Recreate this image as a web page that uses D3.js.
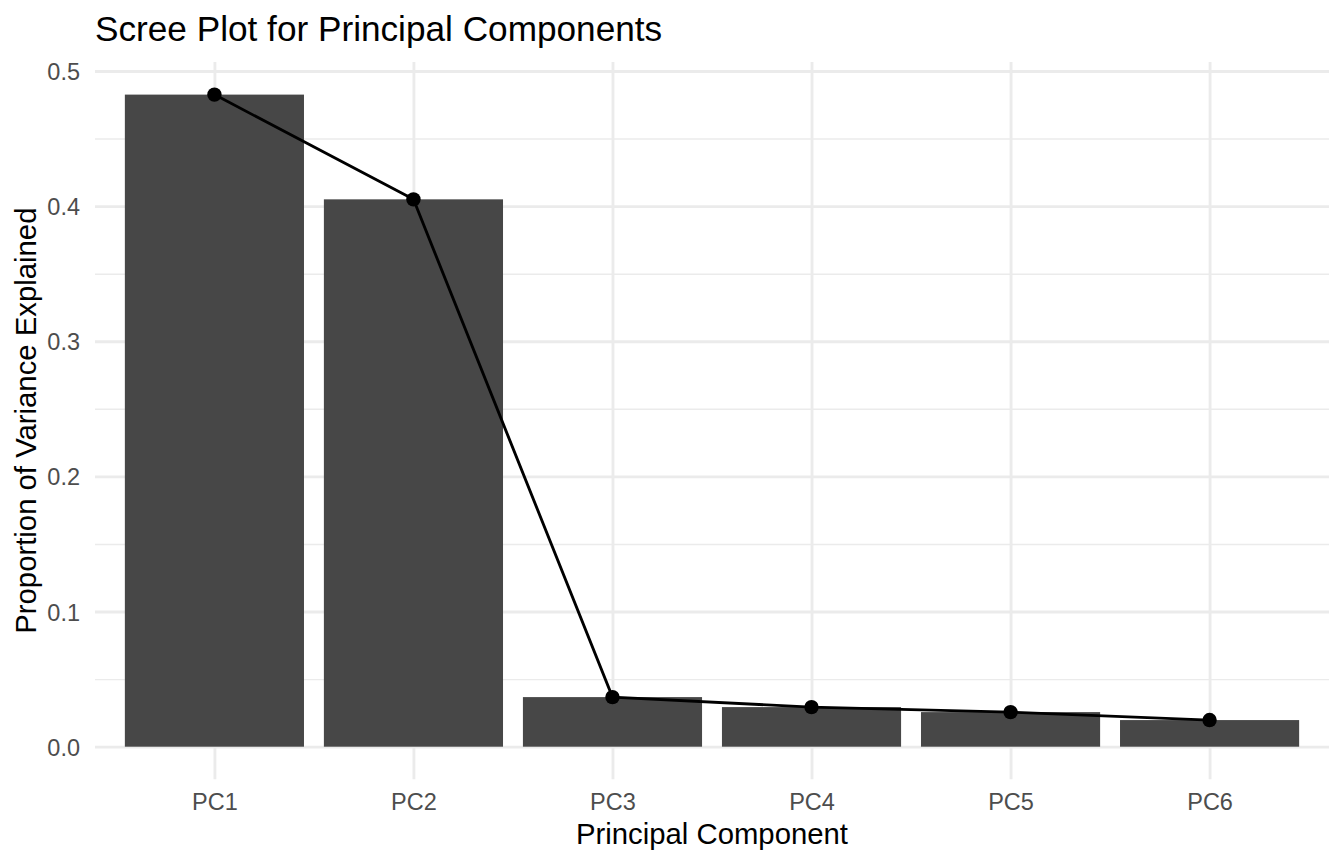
<!DOCTYPE html>
<html>

<head>
    <meta charset="utf-8">
    <style>
        body {
            margin: 0;
            background: white;
        }

        svg {
            font-family: "Liberation Sans", Arial, sans-serif;
            display: block;
        }

        .grid line {
            stroke: #EBEBEB;
        }

        .grid path {
            display: none;
        }

        .axis path,
        .axis line {
            display: none;
        }

        .axis text {
            fill: #4D4D4D;
            font-size: 23.5px;
        }

        .bar {
            fill: #474747;
        }

        .line {
            fill: none;
            stroke: black;
            stroke-width: 2.85px;
        }
    </style>
    <script src="https://d3js.org/d3.v7.min.js"></script>
    <title>Scree Plot</title>
</head>

<body>
    <div id="chart"></div>
</body>

</html>

<script>
    // data
    var components = ["PC1", "PC2", "PC3", "PC4", "PC5", "PC6"];
    var variance = [0.4825, 0.405, 0.0367, 0.0293, 0.0256, 0.0197];
    var yTicks = [0, 0.1, 0.2, 0.3, 0.4, 0.5];
    var yMinorTicks = [0.05, 0.15, 0.25, 0.35, 0.45];

    var W = 1344, H = 864;
    var panel = { left: 95, right: 1329, top: 62, bottom: 779.3 };

    var svg = d3.select("#chart").append("svg")
        .attr("width", W)
        .attr("height", H);

    var x = d3.scalePoint()
        .domain(components)
        .range([panel.left, panel.right])
        .padding(0.6);

    // ggplot style 5% expansion on both sides
    var maxV = d3.max(variance);
    var y = d3.scaleLinear()
        .domain([-0.05 * maxV, maxV * 1.05])
        .range([panel.bottom, panel.top]);

    var barW = x.step() * 0.9;

    // minor grid
    svg.append("g")
        .attr("class", "grid")
        .attr("transform", "translate(" + panel.left + ",0)")
        .call(d3.axisLeft(y).tickValues(yMinorTicks).tickSize(-(panel.right - panel.left)).tickFormat(""))
        .selectAll("line").attr("stroke-width", 1.42);

    // major grid
    svg.append("g")
        .attr("class", "grid")
        .attr("transform", "translate(" + panel.left + ",0)")
        .call(d3.axisLeft(y).tickValues(yTicks).tickSize(-(panel.right - panel.left)).tickFormat(""))
        .selectAll("line").attr("stroke-width", 2.85);

    svg.append("g")
        .attr("class", "grid")
        .attr("transform", "translate(0," + panel.bottom + ")")
        .call(d3.axisBottom(x).tickSize(-(panel.bottom - panel.top)).tickFormat(""))
        .selectAll("line").attr("stroke-width", 2.85);

    // bars
    svg.selectAll(".bar")
        .data(variance)
        .enter().append("rect")
        .attr("class", "bar")
        .attr("x", function (d, i) { return x(components[i]) - barW / 2; })
        .attr("width", barW)
        .attr("y", function (d) { return y(d); })
        .attr("height", function (d) { return y(0) - y(d); });

    // line + points
    var line = d3.line()
        .x(function (d, i) { return x(components[i]); })
        .y(function (d) { return y(d); });

    svg.append("path")
        .datum(variance)
        .attr("class", "line")
        .attr("d", line);

    svg.selectAll(".pt")
        .data(variance)
        .enter().append("circle")
        .attr("class", "pt")
        .attr("cx", function (d, i) { return x(components[i]); })
        .attr("cy", function (d) { return y(d); })
        .attr("r", 7.2)
        .attr("fill", "black");

    // axes (labels only)
    var yAx = svg.append("g")
        .attr("class", "axis")
        .attr("transform", "translate(" + panel.left + ",0)")
        .call(d3.axisLeft(y).tickValues(yTicks).tickSize(0).tickPadding(15).tickFormat(d3.format(".1f")));
    yAx.selectAll("text").attr("dy", "0.36em");

    var xAx = svg.append("g")
        .attr("class", "axis")
        .attr("transform", "translate(0," + panel.bottom + ")")
        .call(d3.axisBottom(x).tickSize(0).tickPadding(0));
    xAx.selectAll("text").attr("dy", null).attr("y", 30.7);

    // titles
    svg.append("text")
        .attr("x", 95)
        .attr("y", 40.7)
        .attr("font-size", "35.2px")
        .attr("fill", "black")
        .text("Scree Plot for Principal Components");

    svg.append("text")
        .attr("x", (panel.left + panel.right) / 2)
        .attr("y", 844.3)
        .attr("text-anchor", "middle")
        .attr("font-size", "29.3px")
        .attr("fill", "black")
        .text("Principal Component");

    svg.append("text")
        .attr("transform", "translate(35.5," + (panel.top + panel.bottom) / 2 + ") rotate(-90)")
        .attr("text-anchor", "middle")
        .attr("font-size", "29.3px")
        .attr("fill", "black")
        .text("Proportion of Variance Explained");
</script>
